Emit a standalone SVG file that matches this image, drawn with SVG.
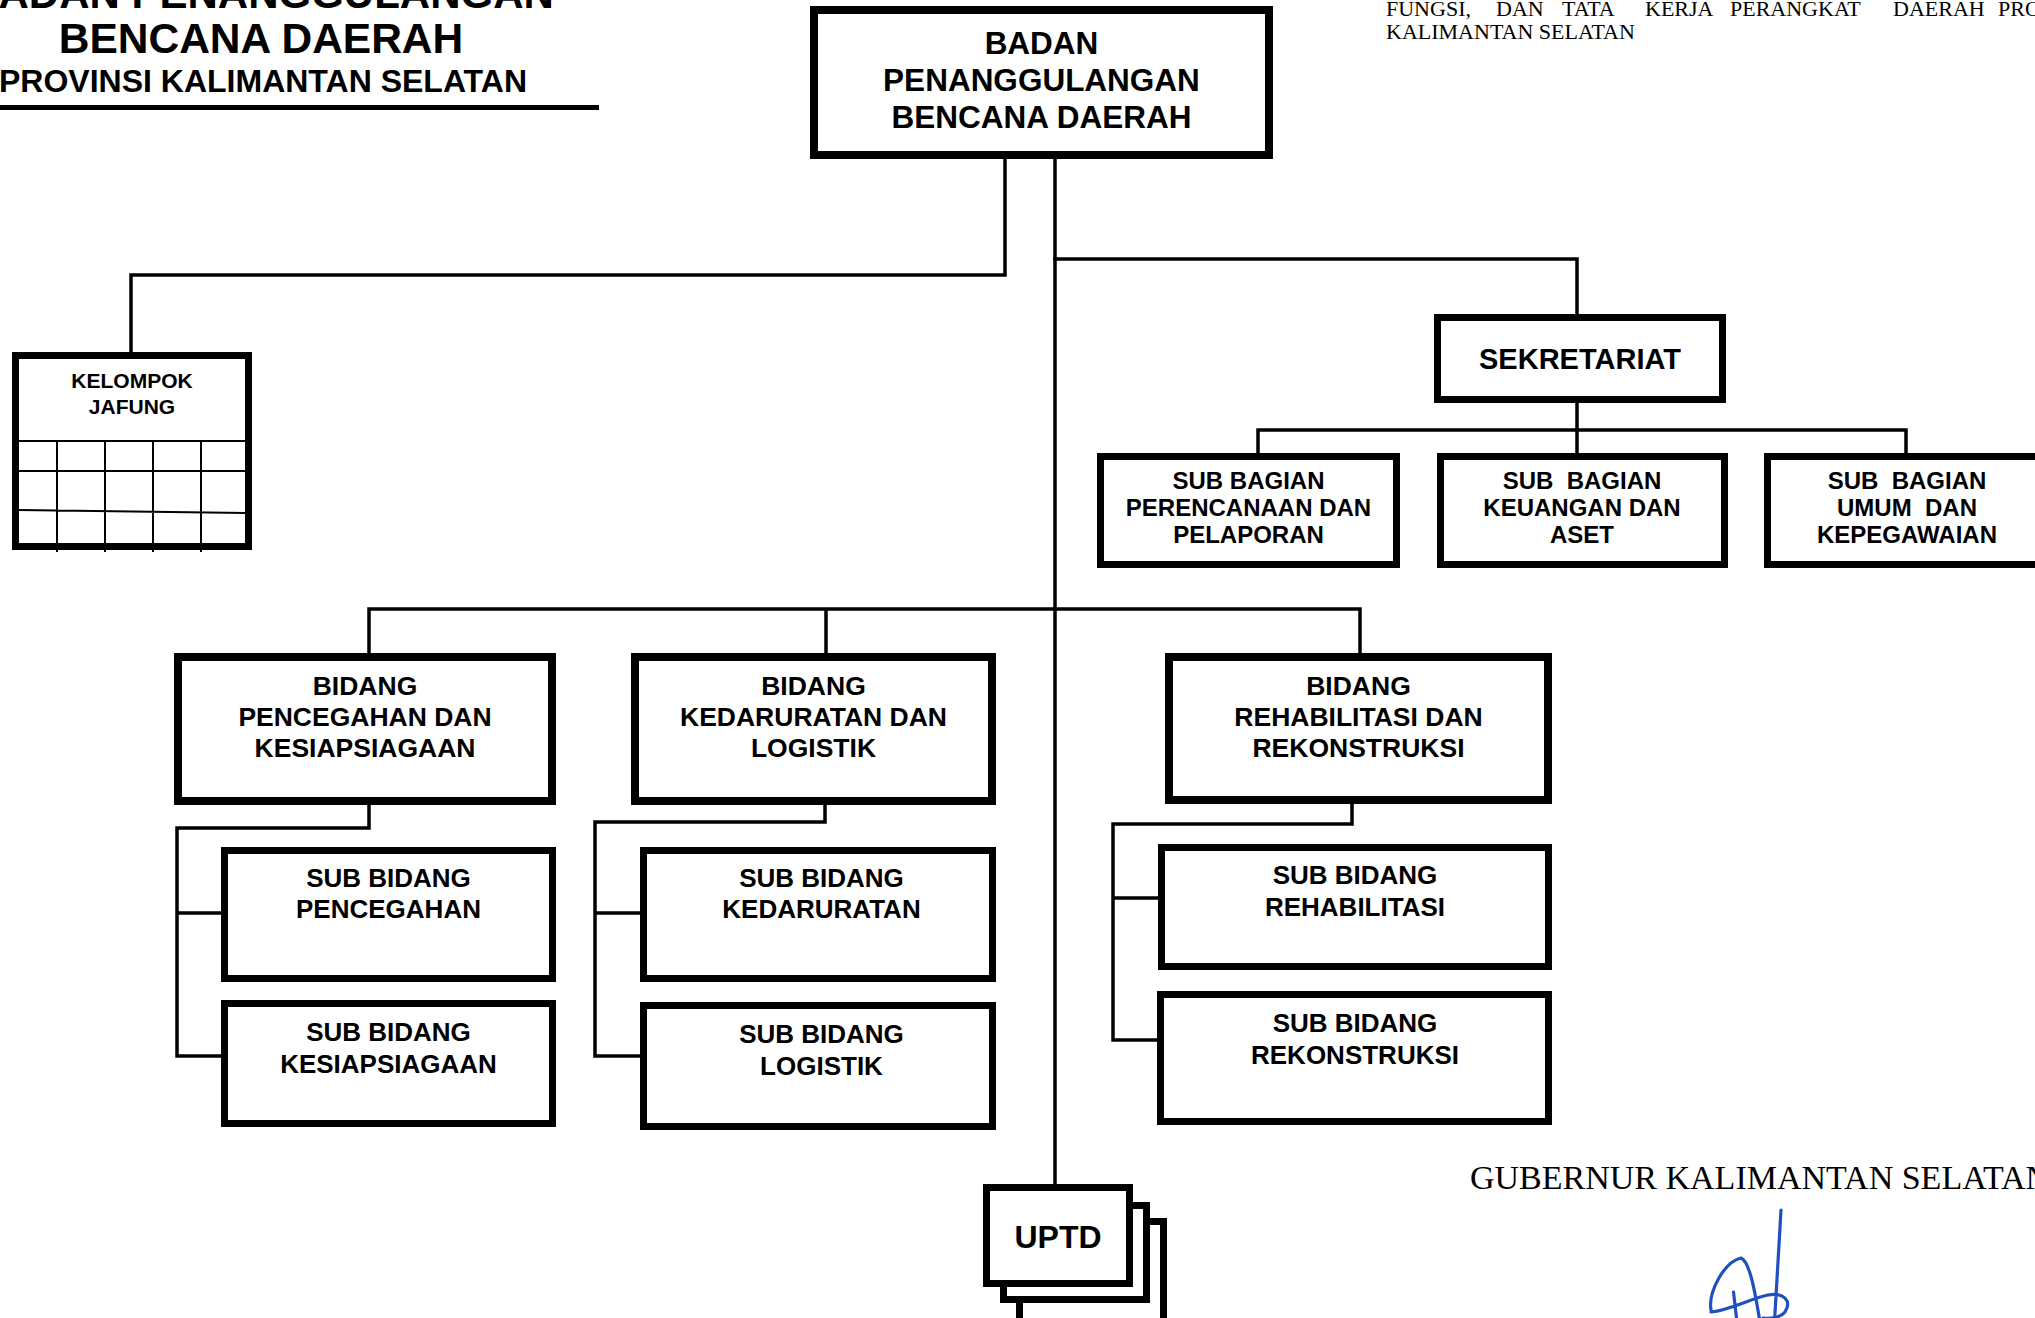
<svg xmlns="http://www.w3.org/2000/svg" width="2035" height="1318" viewBox="0 0 2035 1318">
<style>
.b8{fill:#fff;stroke:#000;stroke-width:8}
.b7{fill:#fff;stroke:#000;stroke-width:7}
.ln{fill:none;stroke:#000;stroke-width:3.5;stroke-linecap:square}
.gr{fill:none;stroke:#000;stroke-width:2}
.t{font-family:"Liberation Sans",Arial,sans-serif;font-weight:bold;text-anchor:middle;fill:#000}
.s{font-family:"Liberation Serif","Times New Roman",serif;fill:#000}
</style>
<rect width="2035" height="1318" fill="#fff"/>
<g id="title">
<text class="t" x="261" y="8" font-size="42">BADAN PENANGGULANGAN</text>
<text class="t" x="261" y="53" font-size="42.5">BENCANA DAERAH</text>
<text class="t" x="263" y="92" font-size="32">PROVINSI KALIMANTAN SELATAN</text>
<line x1="0" y1="107.5" x2="599" y2="107.5" stroke="#000" stroke-width="5"/>
</g>
<g id="header-note">
<text class="s" font-size="22" y="16"><tspan x="1386">FUNGSI,</tspan><tspan x="1496">DAN</tspan><tspan x="1562">TATA</tspan><tspan x="1645">KERJA</tspan><tspan x="1730">PERANGKAT</tspan><tspan x="1893">DAERAH</tspan><tspan x="1998">PROVINSI</tspan></text>
<text class="s" font-size="22" x="1386" y="39">KALIMANTAN SELATAN</text>
</g>
<g id="connectors">
<path class="ln" d="M1005 159 V275 H131 V352"/>
<path class="ln" d="M1055 159 V1184"/>
<path class="ln" d="M1055 259 H1577 V314"/>
<path class="ln" d="M1577 403 V453 M1258 453 V430 H1906 V453"/>
<path class="ln" d="M369 653 V609 H1360 V653 M826 609 V653"/>
<path class="ln" d="M369 805 V828 H177 V1056 H221 M177 913 H221"/>
<path class="ln" d="M825 805 V822 H595 V1056 H640 M595 913 H640"/>
<path class="ln" d="M1352 804 V824 H1113 V1040 H1158 M1113 898 H1158"/>
</g>
<g id="kepala">
<rect class="b8" x="814" y="10" width="455" height="145"/>
<text class="t" font-size="31.5" x="1041.5" y="54">BADAN</text>
<text class="t" font-size="31.5" x="1041.5" y="91">PENANGGULANGAN</text>
<text class="t" font-size="31.5" x="1041.5" y="128">BENCANA DAERAH</text>
</g>
<g id="kelompok-jafung">
<rect class="b7" x="15.5" y="355.5" width="233" height="191"/>
<path class="gr" d="M19 441 H246 M19 471 H246 M19 510 L246 513 M57 441 V552 M105 441 V552 M153 441 V552 M201 441 V552"/>
<text class="t" font-size="21" x="132" y="388">KELOMPOK</text>
<text class="t" font-size="21" x="132" y="414">JAFUNG</text>
</g>
<g id="sekretariat">
<rect class="b7" x="1437.5" y="317.5" width="285" height="82"/>
<text class="t" font-size="29" x="1580" y="369">SEKRETARIAT</text>
</g>
<g id="subbag-perencanaan">
<rect class="b7" x="1100.5" y="456.5" width="296" height="108"/>
<text class="t" font-size="24" x="1248.5" y="489">SUB BAGIAN</text>
<text class="t" font-size="24" x="1248.5" y="516">PERENCANAAN DAN</text>
<text class="t" font-size="24" x="1248.5" y="543">PELAPORAN</text>
</g>
<g id="subbag-keuangan">
<rect class="b7" x="1440.5" y="456.5" width="284" height="108"/>
<text class="t" font-size="24" x="1582" y="489" xml:space="preserve">SUB  BAGIAN</text>
<text class="t" font-size="24" x="1582" y="516">KEUANGAN DAN</text>
<text class="t" font-size="24" x="1582" y="543">ASET</text>
</g>
<g id="subbag-umum">
<rect class="b7" x="1767.5" y="456.5" width="290" height="108"/>
<text class="t" font-size="24" x="1907" y="489" xml:space="preserve">SUB  BAGIAN</text>
<text class="t" font-size="24" x="1907" y="516" xml:space="preserve">UMUM  DAN</text>
<text class="t" font-size="24" x="1907" y="543">KEPEGAWAIAN</text>
</g>
<g id="bidang-pencegahan">
<rect class="b8" x="178" y="657" width="374" height="144"/>
<text class="t" font-size="26.5" x="365" y="695">BIDANG</text>
<text class="t" font-size="26.5" x="365" y="726">PENCEGAHAN DAN</text>
<text class="t" font-size="26.5" x="365" y="757">KESIAPSIAGAAN</text>
</g>
<g id="bidang-kedaruratan">
<rect class="b8" x="635" y="657" width="357" height="144"/>
<text class="t" font-size="26.5" x="813.5" y="695">BIDANG</text>
<text class="t" font-size="26.5" x="813.5" y="726">KEDARURATAN DAN</text>
<text class="t" font-size="26.5" x="813.5" y="757">LOGISTIK</text>
</g>
<g id="bidang-rehabilitasi">
<rect class="b8" x="1169" y="657" width="379" height="143"/>
<text class="t" font-size="26.5" x="1358.5" y="695">BIDANG</text>
<text class="t" font-size="26.5" x="1358.5" y="726">REHABILITASI DAN</text>
<text class="t" font-size="26.5" x="1358.5" y="757">REKONSTRUKSI</text>
</g>
<g id="subbid-pencegahan">
<rect class="b7" x="224.5" y="850.5" width="328" height="128"/>
<text class="t" font-size="26" x="388.5" y="887">SUB BIDANG</text>
<text class="t" font-size="26" x="388.5" y="918">PENCEGAHAN</text>
</g>
<g id="subbid-kesiapsiagaan">
<rect class="b7" x="224.5" y="1003.5" width="328" height="120"/>
<text class="t" font-size="26" x="388.5" y="1041">SUB BIDANG</text>
<text class="t" font-size="26" x="388.5" y="1073">KESIAPSIAGAAN</text>
</g>
<g id="subbid-kedaruratan">
<rect class="b7" x="643.5" y="850.5" width="349" height="128"/>
<text class="t" font-size="26" x="821.5" y="887">SUB BIDANG</text>
<text class="t" font-size="26" x="821.5" y="918">KEDARURATAN</text>
</g>
<g id="subbid-logistik">
<rect class="b7" x="643.5" y="1005.5" width="349" height="121"/>
<text class="t" font-size="26" x="821.5" y="1043">SUB BIDANG</text>
<text class="t" font-size="26" x="821.5" y="1075">LOGISTIK</text>
</g>
<g id="subbid-rehabilitasi">
<rect class="b7" x="1161.5" y="847.5" width="387" height="119"/>
<text class="t" font-size="26" x="1355" y="884">SUB BIDANG</text>
<text class="t" font-size="26" x="1355" y="916">REHABILITASI</text>
</g>
<g id="subbid-rekonstruksi">
<rect class="b7" x="1160.5" y="994.5" width="388" height="127"/>
<text class="t" font-size="26" x="1355" y="1032">SUB BIDANG</text>
<text class="t" font-size="26" x="1355" y="1064">REKONSTRUKSI</text>
</g>
<g id="uptd">
<rect class="b7" x="1019.5" y="1221.5" width="144" height="110"/>
<rect class="b7" x="1003.5" y="1205.5" width="143" height="94"/>
<rect class="b7" x="986.5" y="1187.5" width="143" height="96"/>
<text class="t" font-size="32" x="1058" y="1248">UPTD</text>
</g>
<g id="gubernur">
<text class="s" font-size="34" x="1470" y="1189">GUBERNUR KALIMANTAN SELATAN</text>
<path d="M1781 1210 L1774.5 1322 M1711 1310 C1708 1292 1724 1262 1741 1258 C1750 1262 1755 1292 1760 1322 M1711 1312 C1730 1310 1752 1298 1768 1295 C1784 1292 1792 1301 1785 1312 C1780 1318 1770 1319 1763 1318 M1733.5 1292 L1737 1322" fill="none" stroke="#1f4fc0" stroke-width="3.2" stroke-linecap="round" stroke-linejoin="round"/>
</g>
</svg>
